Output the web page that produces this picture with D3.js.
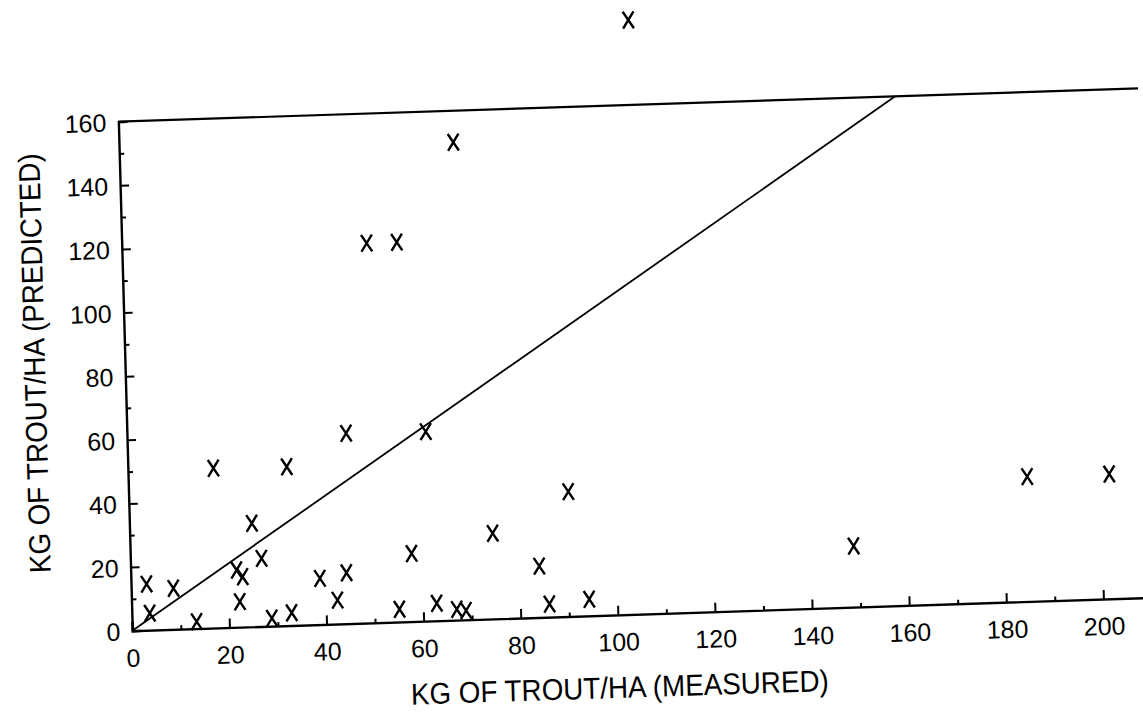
<!DOCTYPE html>
<html>
<head>
<meta charset="utf-8">
<script src="https://cdn.jsdelivr.net/npm/d3@7"></script>
<style>
  body { margin: 0; background: #fff; }
  text { font-family: "Liberation Sans", Arial, sans-serif; fill: #000; }
</style>
</head>
<body>
<div id="chart"></div>
<script>
// measured vs predicted trout biomass (kg/ha)
const measured  = [105.5, 68.8, 50.4, 56.6, 45.1, 61.5, 17.6, 32.7, 25.2, 27.0, 21.8, 23.0, 3.2, 8.7, 22.3, 3.7, 13.3, 28.8,
                   32.9, 38.9, 44.4, 42.4, 57.9, 74.7, 90.5, 84.1, 55.1, 62.8, 66.9, 68.8, 86.0, 94.2, 148.9, 185.0, 201.9]
const predicted = [186.7, 150.1, 119.3, 119.3, 59.8, 59.5, 50.2, 49.9, 32.5, 21.4, 18.0, 15.8, 14.5, 12.9, 8.0, 5.3, 2.2, 2.5,
                   4.0, 14.5, 16.0, 7.5, 21.4, 26.9, 39.2, 16.1, 4.0, 5.5, 3.4, 2.9, 4.1, 5.2, 19.2, 39.2, 39.2]
const xTicks = [0, 20, 40, 60, 80, 100, 120, 140, 160, 180, 200]
const yTicks = [0, 20, 40, 60, 80, 100, 120, 140, 160]
const lineEnds = [0, 160]  // 1:1 line

const width = 1143
const height = 712

const data = measured.map((m, i) => ({x: m, y: predicted[i]}))

const svg = d3.select("#chart")
  .append("svg")
    .attr("width", width)
    .attr("height", height)

// the scanned page is a little crooked, so the whole plot sits in a tilted group
const g = svg.append("g")
  .attr("transform", "translate(132.3,630.7) rotate(-1.87) skewX(-0.3)")

const x = d3.scaleLinear().domain([0, 210]).range([0, 1020.2])
const y = d3.scaleLinear().domain([0, 160]).range([0, -509.2])

// x axis: ticks point up into the plot
const xAxis = d3.axisBottom(x)
  .tickValues(d3.range(0, 211, 10))
  .tickSize(-9)
  .tickFormat(d => xTicks.includes(d) ? d : "")
g.append("g")
  .call(xAxis)
  .call(a => a.select(".domain").attr("stroke-width", 2.4))
  .call(a => a.selectAll(".tick line")
      .attr("stroke-width", 2)
      .attr("y2", d => d % 20 === 0 ? -9 : -4))
  .call(a => a.selectAll(".tick text")
      .attr("y", 36).attr("dy", 0)
      .style("font-size", "25px"))

// y axis: ticks point right
const yAxis = d3.axisLeft(y)
  .tickValues(d3.range(0, 161, 10))
  .tickSize(-9)
  .tickFormat(d => yTicks.includes(d) ? d : "")
g.append("g")
  .call(yAxis)
  .call(a => a.select(".domain").attr("stroke-width", 2.4))
  .call(a => a.selectAll(".tick line")
      .attr("stroke-width", 2)
      .attr("x2", d => d % 20 === 0 ? 9 : 5))
  .call(a => a.selectAll(".tick text")
      .attr("x", -12).attr("dy", "0.36em")
      .style("font-size", "25px"))

// top frame line
g.append("line")
  .attr("x1", x(0)).attr("x2", x(210))
  .attr("y1", y(160)).attr("y2", y(160))
  .attr("stroke", "black")
  .attr("stroke-width", 2.2)

// 1:1 line
g.append("line")
  .attr("x1", x(lineEnds[0])).attr("y1", y(lineEnds[0]))
  .attr("x2", x(lineEnds[1])).attr("y2", y(lineEnds[1]))
  .attr("stroke", "black")
  .attr("stroke-width", 1.8)

// X markers
g.append("g")
  .selectAll("path")
  .data(data)
  .join("path")
    .attr("d", d => {
      const cx = x(d.x), cy = y(d.y)
      return `M${cx-5.4},${cy-8.4}L${cx+5.4},${cy+8.4}M${cx+5.4},${cy-8.4}L${cx-5.4},${cy+8.4}`
    })
    .attr("stroke", "black")
    .attr("stroke-width", 2.4)
    .attr("fill", "none")

// axis titles (condensed like the original lettering)
g.append("text")
  .attr("x", x(100))
  .attr("y", 83)
  .attr("text-anchor", "middle")
  .attr("textLength", 418)
  .attr("lengthAdjust", "spacingAndGlyphs")
  .style("font-size", "30px")
  .text("KG OF TROUT/HA (MEASURED)")

g.append("text")
  .attr("transform", `translate(-80,${y(85)}) rotate(-90)`)
  .attr("text-anchor", "middle")
  .attr("textLength", 420)
  .attr("lengthAdjust", "spacingAndGlyphs")
  .style("font-size", "30px")
  .text("KG OF TROUT/HA (PREDICTED)")
</script>
</body>
</html>
